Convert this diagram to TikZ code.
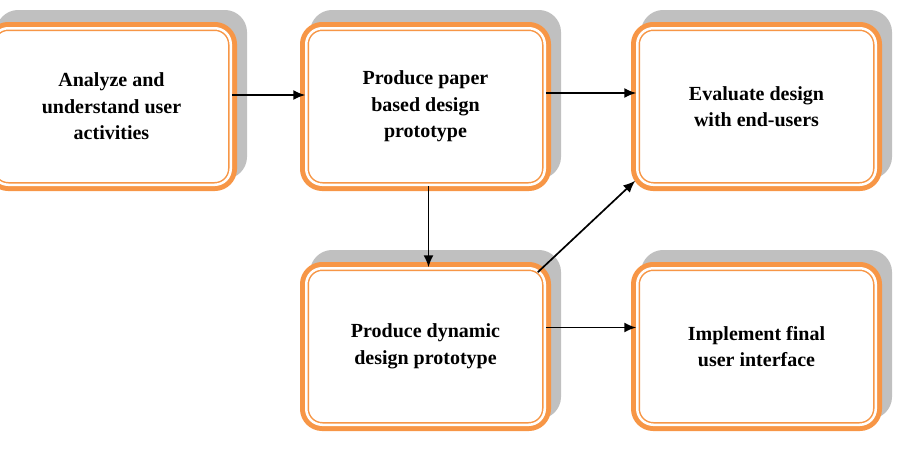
\documentclass[tikz,border=0pt]{standalone}
\usepackage{fontspec}
\setmainfont{Liberation Serif}
\usetikzlibrary{arrows.meta,positioning,shadows}
\definecolor{stageorange}{HTML}{F79646}
\definecolor{stageshadow}{HTML}{C0C0C0}
\tikzset{
    stage/.style={
      drop shadow={shadow xshift=10pt, shadow yshift=12pt, fill=stageshadow,
        draw=stageshadow, line width=12.5pt, opacity=1},
      preaction={draw=stageorange, line width=12.5pt},
      draw=stageorange, line width=1.5pt, double=white, double distance=2.5pt,
      rounded corners=16pt, fill=white, outer sep=1pt,
      minimum width=238.5pt, minimum height=156.5pt, align=center,
      font=\fontsize{20}{26.5}\selectfont\bfseries
    },
    flow/.style={-{Latex[length=12pt,width=10pt]}, line width=1.7pt, black},
  }
\begin{document}
\begin{tikzpicture}[x=1pt,y=-1pt]
    \useasboundingbox (0,0) rectangle (900,450);

    \node[stage] (analyze) at (111.5,106.5) {Analyze and\\understand user\\activities};

    \node[stage, right=73.5pt of analyze] (paper) {Produce paper\\based design\\prototype};
    \draw[flow] ([yshift=11.5pt]analyze.east) -- ([yshift=11.5pt]paper.west);

    \node[stage, right=90.5pt of paper] (evaluate) {Evaluate design\\with end-users};
    \draw[flow] ([yshift=13.5pt]paper.east) -- ([yshift=13.5pt]evaluate.west);

    \node[stage, below=81.5pt of paper] (dynamic) {Produce dynamic\\design prototype};
    \draw[flow] ([xshift=3pt]paper.south) -- ([xshift=3pt]dynamic.north);
    \draw[flow] ([xshift=-8pt,yshift=-5pt]dynamic.north east) -- ([xshift=-1pt,yshift=5pt]evaluate.south west);

    \node[stage, below=81.5pt of evaluate] (implement) {Implement final\\user interface};
    \draw[flow] ([yshift=19pt]dynamic.east) -- ([yshift=19pt]implement.west);
  \end{tikzpicture}
\end{document}
